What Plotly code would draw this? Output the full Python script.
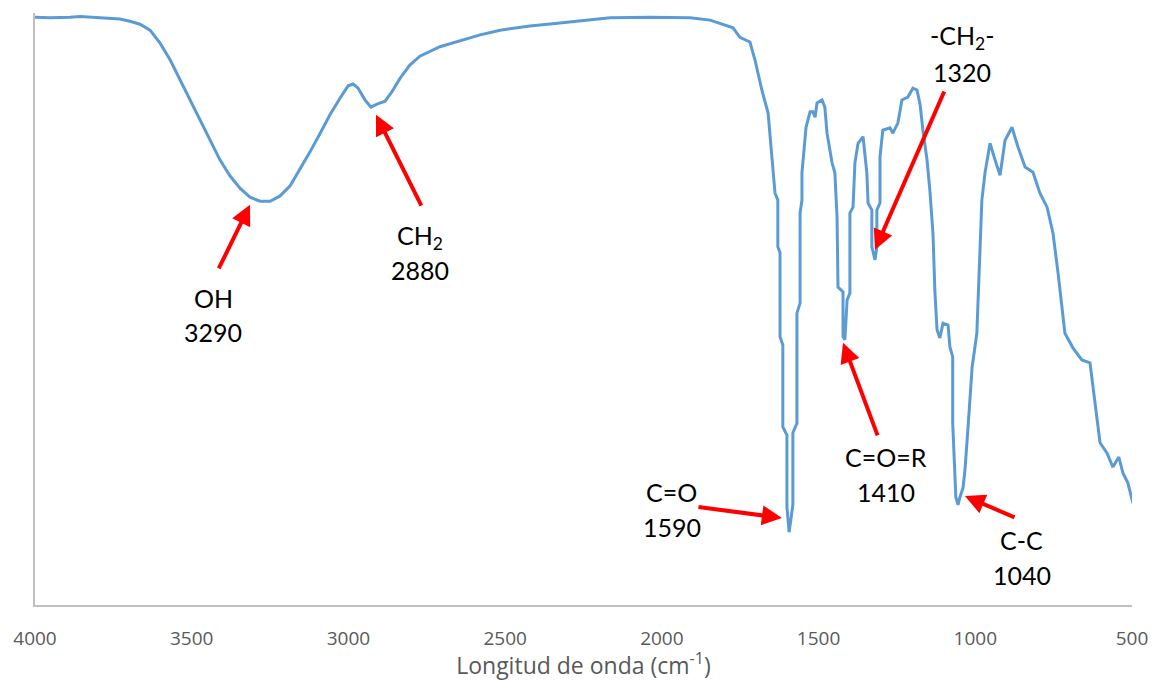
import plotly.graph_objects as go

# Wavenumber (cm-1) and transmittance (arbitrary %)
wavenumber = [4000, 3952, 3888, 3856, 3793, 3729, 3697, 3665, 3633, 3601, 3569, 3537, 3505, 3474,
              3442, 3410, 3378, 3346, 3314, 3282, 3250, 3218, 3186, 3155, 3123, 3091, 3059, 3027,
              3001, 2985, 2969, 2947, 2928, 2909, 2883, 2861, 2835, 2804, 2772, 2708, 2644, 2580,
              2516, 2421, 2325, 2229, 2165, 2038, 1910, 1846, 1773, 1751, 1719, 1703, 1681, 1661,
              1649, 1639, 1630, 1630, 1623, 1623, 1614, 1614, 1601, 1601, 1594, 1588, 1582, 1582,
              1569, 1569, 1559, 1559, 1553, 1553, 1540, 1527, 1518, 1511, 1505, 1489, 1480, 1473,
              1457, 1448, 1441, 1438, 1422, 1422, 1416, 1409, 1400, 1400, 1390, 1384, 1374, 1358,
              1352, 1346, 1342, 1330, 1330, 1320, 1314, 1314, 1304, 1304, 1295, 1272, 1263, 1247,
              1234, 1215, 1199, 1186, 1176, 1167, 1154, 1145, 1135, 1129, 1122, 1113, 1103, 1087,
              1081, 1072, 1072, 1062, 1055, 1049, 1039, 1033, 1023, 1010, 995, 985, 979, 969,
              953, 937, 921, 905, 883, 864, 841, 816, 794, 771, 752, 736, 714, 688,
              660, 634, 618, 602, 580, 561, 542, 529, 513, 497]
transmittance = [99.3, 99.2, 99.3, 99.4, 99.2, 99.0, 98.6, 98.1, 97.1, 94.9, 92.1, 88.7, 85.3, 81.9,
                 78.5, 75.2, 72.5, 70.4, 68.9, 68.2, 68.2, 69.1, 70.8, 73.5, 76.5, 79.6, 82.8, 85.6,
                 87.7, 88.0, 87.3, 85.3, 84.1, 84.6, 85.1, 86.7, 89.0, 91.2, 92.7, 94.3, 95.3, 96.3,
                 97.1, 97.8, 98.3, 98.8, 99.2, 99.3, 99.2, 98.8, 97.5, 95.9, 95.1, 92.1, 87.0, 83.1,
                 75.7, 69.6, 68.4, 60.5, 59.5, 45.3, 43.9, 30.1, 28.7, 16.6, 12.3, 14.4, 16.9, 29.1,
                 30.7, 49.3, 51.0, 66.2, 68.4, 73.0, 80.7, 83.3, 83.3, 82.4, 84.8, 85.3, 84.1, 79.7,
                 74.7, 73.0, 65.5, 53.7, 52.9, 45.3, 44.8, 51.5, 52.7, 66.2, 67.2, 74.7, 78.0, 79.1,
                 76.4, 73.0, 67.9, 66.7, 60.5, 58.3, 60.5, 66.7, 67.9, 75.7, 80.2, 80.6, 79.7, 81.4,
                 85.3, 85.8, 87.3, 87.0, 84.5, 80.2, 75.2, 70.1, 62.8, 53.2, 46.5, 45.1, 47.6, 47.3,
                 43.6, 41.9, 30.7, 18.2, 16.9, 18.2, 19.8, 22.8, 30.1, 40.2, 45.9, 60.0, 68.4, 73.0,
                 78.0, 75.2, 72.6, 78.5, 80.7, 77.4, 74.0, 73.1, 69.6, 67.2, 62.8, 56.1, 45.9, 43.4,
                 41.4, 40.9, 34.6, 27.4, 25.7, 23.3, 25.0, 22.3, 20.6, 17.2]

tick_values = [4000, 3500, 3000, 2500, 2000, 1500, 1000, 500]

# Peak labels
peak_line1 = ["OH", "CH<sub>2</sub>", "-CH<sub>2</sub>-", "C=O", "C=O=R", "C-C"]
peak_line2 = ["3290", "2880", "1320", "1590", "1410", "1040"]
label_x = [3432, 2772, 1042, 1968, 1285, 851]
label_y1 = [51.9, 62.2, 95.9, 19.1, 25.0, 11.0]
label_y2 = [46.1, 56.6, 90.0, 13.2, 19.1, 5.1]
head_x = [3314, 2912, 1320, 1617, 1422, 1033]
head_y = [67.6, 82.8, 60.0, 14.7, 44.3, 18.4]
tail_x = [3416, 2765, 1097, 1888, 1310, 870]
tail_y = [56.6, 67.2, 87.0, 16.6, 28.4, 14.7]

FONT = "Lato, 'Open Sans', sans-serif"
AXFONT = "'Open Sans', sans-serif"

fig = go.Figure()
fig.add_trace(go.Scatter(x=wavenumber, y=transmittance, mode="lines",
                         line=dict(color="#5B9BD5", width=3), showlegend=False))

annotations = []
for i in range(len(peak_line1)):
    annotations.append(dict(x=head_x[i], y=head_y[i], ax=tail_x[i], ay=tail_y[i],
                            xref="x", yref="y", axref="x", ayref="y", text="",
                            showarrow=True, arrowhead=2, arrowsize=1, arrowwidth=4,
                            arrowcolor="#FF0000"))
    annotations.append(dict(x=label_x[i], y=label_y1[i], xref="x", yref="y", text=peak_line1[i],
                            showarrow=False, font=dict(family=FONT, size=25, color="#000000")))
    annotations.append(dict(x=label_x[i], y=label_y2[i], xref="x", yref="y", text=peak_line2[i],
                            showarrow=False, font=dict(family=FONT, size=25, color="#000000")))

fig.update_layout(
    width=1153, height=681,
    margin=dict(l=35, r=21, t=13, b=76, autoexpand=False),
    paper_bgcolor="white", plot_bgcolor="white",
    font=dict(family=FONT),
    annotations=annotations,
    xaxis=dict(range=[4000, 500], tickvals=tick_values, showgrid=False, zeroline=False,
               automargin=False,
               showline=True, linecolor="#BFBFBF", linewidth=1.5, ticks="",
               tickfont=dict(family=AXFONT, size=19, color="#595959"), ticklabelstandoff=15,
               title=dict(text="Longitud de onda (cm<sup>-1</sup>)", standoff=6,
                          font=dict(family=AXFONT, size=23, color="#595959"))),
    yaxis=dict(range=[0, 100], showgrid=False, zeroline=False, showticklabels=False,
               automargin=False,
               showline=True, linecolor="#BFBFBF", linewidth=1.5, ticks=""),
)

fig.write_html("out.html", config={"displayModeBar": False},
               post_script="document.body.style.margin='0px';")
